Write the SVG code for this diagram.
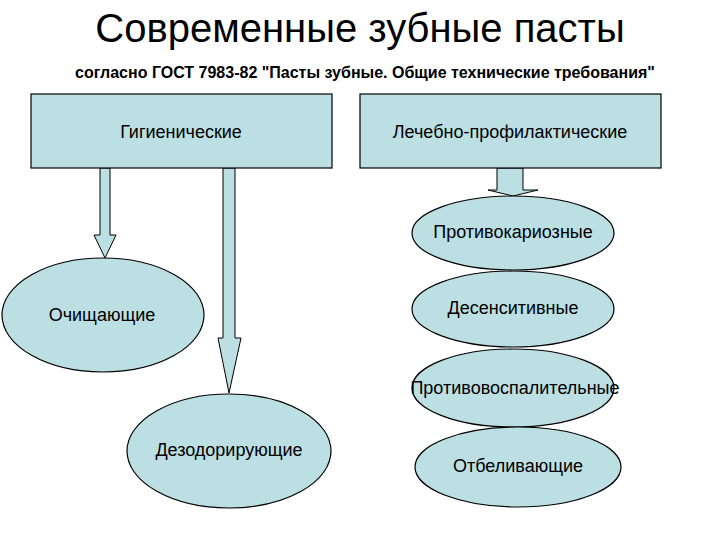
<svg xmlns="http://www.w3.org/2000/svg" width="720" height="540" viewBox="0 0 720 540">
<style>
.n{fill:#bcdfe3;stroke:#000;stroke-width:1.2}
.a{fill:#bcdfe3;stroke:#000;stroke-width:1}
.t{font-family:"Liberation Sans",Arial,sans-serif;font-size:18px;fill:#000;text-anchor:middle}
</style>
<rect width="720" height="540" fill="#fff"/>
<text x="360" y="42" style="font-family:'Liberation Sans',Arial,sans-serif;font-size:40px;text-anchor:middle">Современные зубные пасты</text>
<text x="365" y="78" style="font-family:'Liberation Sans',Arial,sans-serif;font-size:16px;font-weight:bold;text-anchor:middle">согласно ГОСТ 7983-82 "Пасты зубные. Общие технические требования"</text>
<g id="connectors">
<polygon class="a" points="100,168 110,168 110,235 116,235 105,258 94,235 100,235"/>
<polygon class="a" points="223,168 235,168 235,338 241,338 229,393 218,338 223,338"/>
<polygon class="a" points="497,168 523,168 523,190 538,190 513,196 488,190 497,190"/>
</g>
<g id="gig"><rect class="n" x="31" y="94" width="301" height="74"/><text class="t" x="181" y="138">Гигиенические</text></g>
<g id="lech"><rect class="n" x="360" y="94" width="301" height="74"/><text class="t" x="510" y="138">Лечебно-профилактические</text></g>
<g id="ochish"><ellipse class="n" cx="103" cy="315" rx="101" ry="57"/><text class="t" x="102" y="321">Очищающие</text></g>
<g id="dezod"><ellipse class="n" cx="229" cy="451" rx="102" ry="57"/><text class="t" x="229" y="456">Дезодорирующие</text></g>
<g id="protkar"><ellipse class="n" cx="513" cy="233" rx="101" ry="37"/><text class="t" x="513" y="238">Противокариозные</text></g>
<g id="desens"><ellipse class="n" cx="513" cy="309" rx="101" ry="38"/><text class="t" x="513" y="314">Десенситивные</text></g>
<g id="protvos"><ellipse class="n" cx="513" cy="388" rx="101" ry="39"/><text class="t" x="515" y="394">Противовоспалительные</text></g>
<g id="otbel"><ellipse class="n" cx="518" cy="467" rx="103" ry="40"/><text class="t" x="518" y="472">Отбеливающие</text></g>
</svg>
